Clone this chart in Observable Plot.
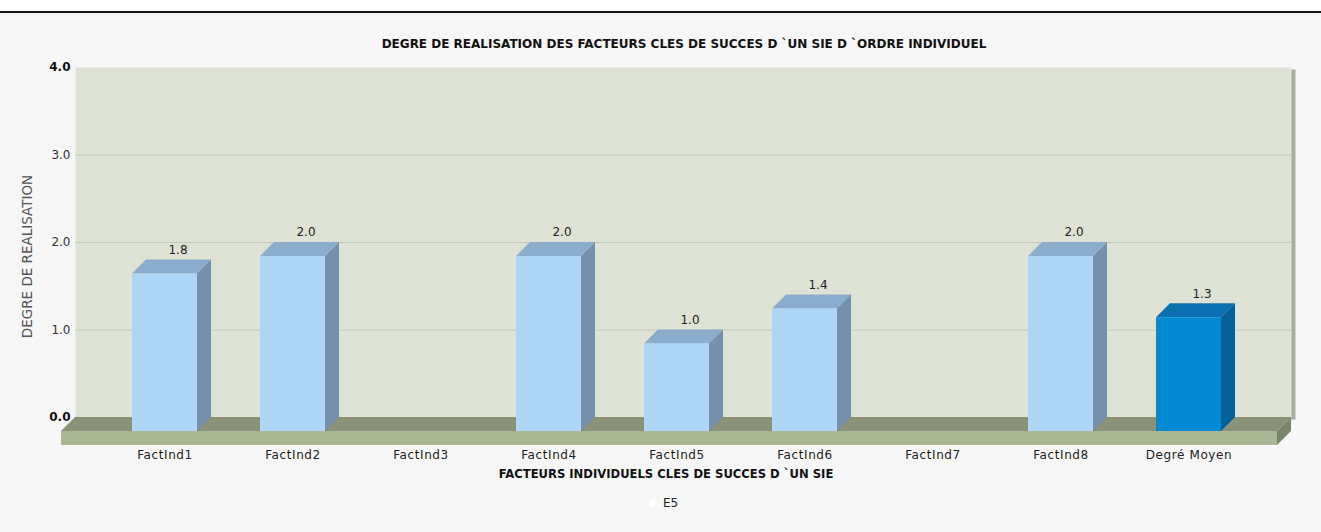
<!DOCTYPE html>
<html>
<head>
<meta charset="utf-8">
<script src="https://cdn.jsdelivr.net/npm/d3@7"></script>
<script src="https://cdn.jsdelivr.net/npm/@observablehq/plot@0.6"></script>
<style>
  html, body { margin: 0; padding: 0; }
  body { width: 1321px; height: 532px; overflow: hidden; position: relative; background: #ffffff; font-family: "DejaVu Sans", Verdana, sans-serif; }
  #bg { position: absolute; left: 0; top: 12px; width: 1321px; height: 520px; background: #f6f6f6; }
  #topline { position: absolute; left: 0; top: 11px; width: 1321px; height: 1.5px; background: #111; }
  #chart { position: absolute; left: 0; top: 0; }
  #title { position: absolute; left: 284px; width: 800px; top: 37px; text-align: center; font: bold 12px "DejaVu Sans", Verdana, sans-serif; color: #111; white-space: nowrap; }
  #xtitle { position: absolute; left: 266px; width: 800px; top: 467px; text-align: center; font: bold 11.6px "DejaVu Sans", Verdana, sans-serif; color: #111; white-space: nowrap; }
  #legend { position: absolute; left: 649px; top: 496px; font: 12px "DejaVu Sans", Verdana, sans-serif; color: #222; display: flex; align-items: center; gap: 7px; }
  #legend .sw { width: 7px; height: 7px; border-radius: 50%; background: #ffffff; }
  svg [aria-label="x-axis tick label"] text { letter-spacing: 0.6px; }
</style>
</head>
<body>
<div id="bg"></div>
<div id="topline"></div>
<div id="chart"></div>
<div id="title"></div>
<div id="xtitle"></div>
<div id="legend"><span class="sw"></span><span id="legendText"></span></div>
<script>
// ---- data ----
const categories = ["FactInd1", "FactInd2", "FactInd3", "FactInd4", "FactInd5", "FactInd6", "FactInd7", "FactInd8", "Degré Moyen"];
const values = [1.8, 2.0, 0, 2.0, 1.0, 1.4, 0, 2.0, 1.3];
const yTicks = [0, 1, 2, 3, 4];
const seriesName = "E5";
const titleText = "DEGRE DE REALISATION DES FACTEURS CLES DE SUCCES D `UN SIE D `ORDRE INDIVIDUEL";
const xTitleText = "FACTEURS INDIVIDUELS CLES DE SUCCES D `UN SIE";
const yTitleText = "DEGRE DE REALISATION";

// ---- styles ----
const lightFront = "#add6f6", lightTop = "#8aaccd", lightSide = "#7491ac";
const darkFront = "#0489d3", darkTop = "#0a70b0", darkSide = "#065f97";
const DX = 14, DY = 14;

const rows = categories.map((c, i) => ({cat: c, value: values[i], avg: c === "Degré Moyen"}));
const shown = rows.filter(d => d.value > 0);

document.getElementById("title").textContent = titleText;
document.getElementById("xtitle").textContent = xTitleText;
document.getElementById("legendText").textContent = seriesName;

function findScales(args) {
  return args.find(a => a && typeof a === "object" && typeof a.x === "function" && typeof a.y === "function");
}
function findDims(args) {
  return args.find(a => a && typeof a === "object" && "marginLeft" in a && "width" in a);
}

// floor slab (uses the frame dimensions and the y scale)
function floorMark(...args) {
  const s = findScales(args), dm = findDims(args);
  const y0 = s.y(0);
  const L = dm.marginLeft, R = dm.width - dm.marginRight, T = 14;
  const g = d3.create("svg:g");
  g.append("path").attr("d", `M${L},${y0}L${L + DX},${y0 - DY}L${R + DX},${y0 - DY}L${R},${y0}Z`).attr("fill", "#899177");
  g.append("path").attr("d", `M${L},${y0}L${R},${y0}L${R},${y0 + T}L${L},${y0 + T}Z`).attr("fill", "#a9b794");
  g.append("path").attr("d", `M${R},${y0}L${R + DX},${y0 - DY}L${R + DX},${y0 - DY + T}L${R},${y0 + T}Z`).attr("fill", "#7b8567");
  return g.node();
}

// top and side faces of the 3D bars, positioned by the x and y scales
function barDepthMark(...args) {
  const s = findScales(args);
  const bw = s.x.bandwidth ? s.x.bandwidth() : 65;
  const g = d3.create("svg:g");
  for (const d of shown) {
    const x0 = s.x(d.cat), x1 = x0 + bw, yt = s.y(d.value), yb = s.y(0);
    g.append("path")
      .attr("d", `M${x0},${yt}L${x0 + DX},${yt - DY}L${x1 + DX},${yt - DY}L${x1},${yt}Z`)
      .attr("fill", d.avg ? darkTop : lightTop);
    g.append("path")
      .attr("d", `M${x1},${yt}L${x1 + DX},${yt - DY}L${x1 + DX},${yb - DY}L${x1},${yb}Z`)
      .attr("fill", d.avg ? darkSide : lightSide);
  }
  return g.node();
}

const chart = Plot.plot({
  width: 1321,
  height: 532,
  marginLeft: 61,
  marginRight: 44,
  marginTop: 81,
  marginBottom: 101,
  style: {background: "transparent", fontFamily: "'DejaVu Sans', Verdana, sans-serif"},
  x: {type: "band", domain: categories, range: [101, 1253], paddingInner: 0.49, paddingOuter: 0.245},
  y: {domain: [0, 4]},
  color: {type: "identity"},
  marks: [
    // back wall edge and wall
    Plot.frame({fill: "#a9ada2", dx: DX + 4, dy: -DY + 2}),
    Plot.frame({fill: "#dde2d4", dx: DX, dy: -DY}),
    Plot.ruleY([1, 2, 3], {stroke: "#c6ccba", strokeWidth: 1, dx: DX, dy: -DY}),
    floorMark,
    barDepthMark,
    Plot.barY(shown, {x: "cat", y: "value", fill: d => d.avg ? darkFront : lightFront}),
    Plot.text(shown, {x: "cat", y: "value", text: d => d.value.toFixed(1), dx: 13, dy: -24, fontSize: 12, fill: "#222"}),
    Plot.axisY(yTicks.filter(t => t > 0 && t < 4), {tickSize: 0, tickPadding: 5, dx: DX, dy: -DY, tickFormat: d => d.toFixed(1), fontSize: 12, fill: "#333", label: null}),
    Plot.axisY([0, 4], {tickSize: 0, tickPadding: 5, dx: DX, dy: -DY, tickFormat: d => d.toFixed(1), fontSize: 12, fontWeight: "bold", fill: "#111", label: null}),
    Plot.axisX({tickSize: 0, tickPadding: 19, fontSize: 12, fill: "#222", label: null}),
    Plot.text([yTitleText], {frameAnchor: "left", dx: -34, rotate: -90, textAnchor: "middle", fontSize: 13.5, fill: "#555"})
  ]
});
document.getElementById("chart").appendChild(chart);
</script>
</body>
</html>
